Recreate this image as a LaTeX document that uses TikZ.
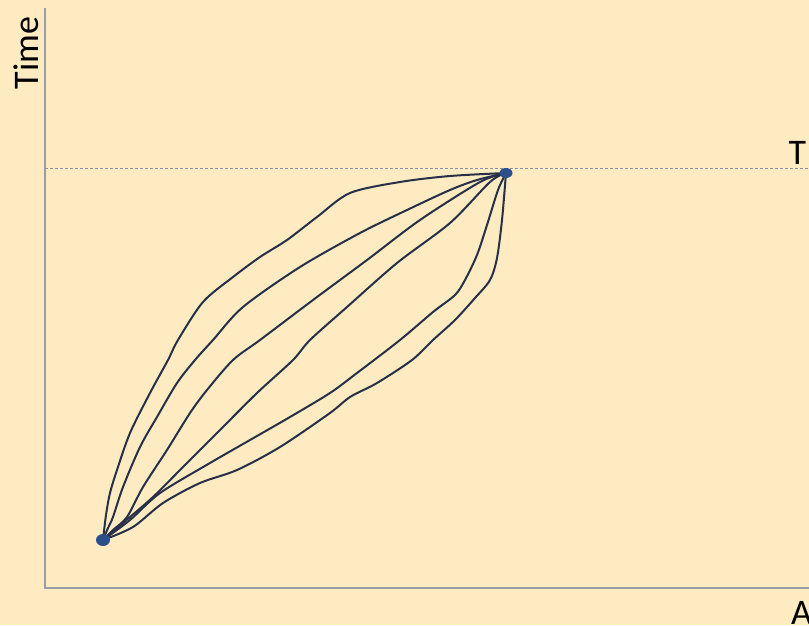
\documentclass[tikz,border=0pt]{standalone}
\usepackage{fontspec}
\setmainfont{Carlito}
\usetikzlibrary{shapes.geometric}
\definecolor{bgcol}{HTML}{FEEBC1}
\definecolor{axiscol}{HTML}{9A9CAA}
\definecolor{dashcol}{HTML}{8A90A8}
\definecolor{curvecol}{HTML}{263048}
\definecolor{dotcol}{HTML}{2B4F8A}
\tikzset{
  wob/.style={draw=curvecol, line width=2pt, line cap=round, line join=round},
  dotnode/.style={ellipse, fill=dotcol, minimum width=14pt, minimum height=12pt, inner sep=0pt},
  axisline/.style={draw=axiscol, line width=1.8pt},
  guide/.style={draw=dashcol, line width=1pt, dash pattern=on 3pt off 2pt},
  lbl/.style={font=\fontsize{36}{40}\selectfont, text=black, inner sep=0pt}
}
\begin{document}
\begin{tikzpicture}[x=1pt,y=-1pt]
\fill[bgcol] (0,0) rectangle (809,625);
\useasboundingbox (0,0) rectangle (809,625);
% axes
\coordinate (ytop) at (45,8);
\coordinate (orig) at (45,588);
\coordinate (xend) at (812,588);
\draw[axisline] (ytop) -- (orig) -- (xend);
% guide line
\coordinate (gl) at (45,168);
\coordinate (gr) at (812,168);
\draw[guide] (gl) -- (gr);
% labels
\node[lbl, rotate=90, anchor=base] (time) at (38,53) {Time};
\node[lbl, anchor=base] (tlab) at (797.5,164) {T};
\node[lbl, anchor=base] (alab) at (801.5,624) {A};
% end points
\coordinate (s) at (103,540);
\coordinate (e) at (506,173);
% curves
\draw[wob] plot[smooth] coordinates {(s) (106,515) (110,493) (117,470) (130,433) (150,393) (168,360) (178,340) (203,302) (233,277) (260,257) (287,240) (317,217) (350,193) (400,182) (450,176) (e)};
\draw[wob] plot[smooth] coordinates {(s) (108,528) (113,517) (123,487) (140,447) (157,417) (177,383) (195,360) (213,340) (243,307) (300,267) (360,233) (407,210) (450,190) (477,180) (e)};
\draw[wob] plot[smooth] coordinates {(s) (113,530) (127,517) (143,487) (167,450) (190,413) (207,390) (233,360) (260,340) (313,300) (367,260) (420,220) (480,182) (e)};
\draw[wob] plot[smooth] coordinates {(s) (123,523) (153,497) (183,467) (220,430) (257,393) (293,360) (310,340) (347,307) (397,263) (450,223) (490,182) (e)};
\draw[wob] plot[smooth] coordinates {(s) (130,520) (160,493) (210,463) (250,440) (290,417) (330,393) (357,373) (400,340) (433,312) (455,295) (465,280) (477,255) (487,225) (498,190) (e)};
\draw[wob] plot[smooth] coordinates {(s) (133,527) (163,503) (200,483) (237,470) (280,447) (330,413) (350,397) (377,383) (412,360) (433,340) (455,320) (475,298) (490,280) (497,258) (502,220) (e)};
% dots
\node[dotnode] (sdot) at (s) {};
\node[dotnode, minimum width=13pt, minimum height=10pt] (edot) at (e) {};
\end{tikzpicture}
\end{document}
